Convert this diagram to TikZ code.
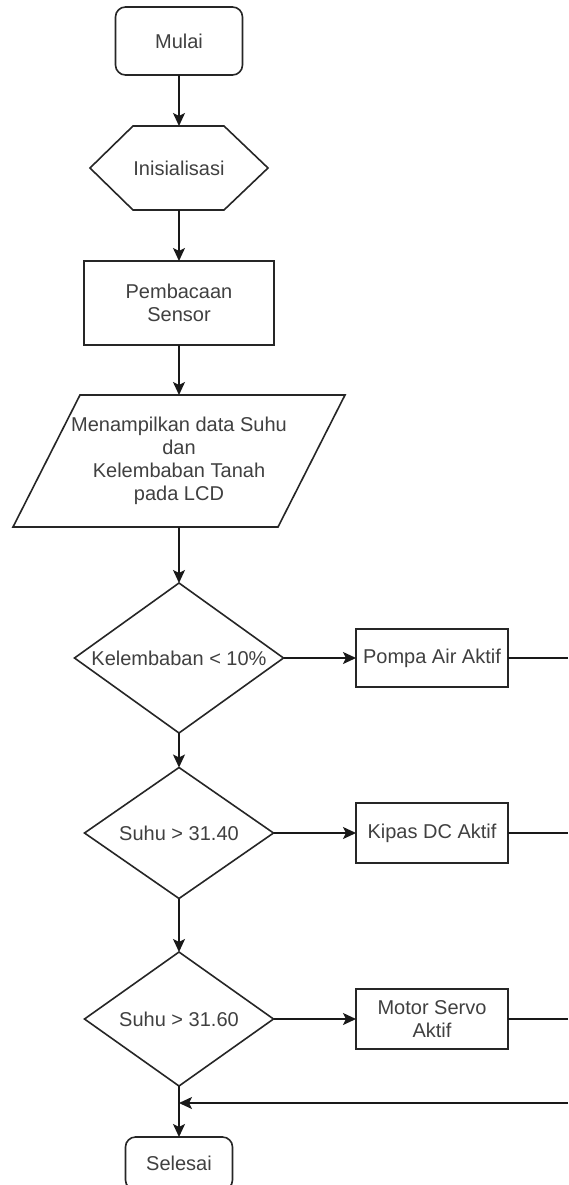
\documentclass[tikz,border=0pt]{standalone}
\usepackage{fontspec}
\setmainfont{Liberation Sans}
\usetikzlibrary{arrows.meta,calc}
\begin{document}
\begin{tikzpicture}[x=1pt,y=-1pt,
  txt/.style={font=\fontsize{20}{23}\selectfont, text=black!75, align=center, inner sep=0pt, outer sep=0pt},
  frame/.style={txt, draw=black!85, line width=1.6pt},
  ghost/.style={txt},
  outline/.style={draw=black!85, line width=1.6pt, line join=miter},
  conn/.style={draw=black!90, line width=1.6pt, -{Stealth[length=13pt,width=12pt,inset=3pt]}},
  stub/.style={draw=black!90, line width=1.6pt}]
\fill[white] (0,0) rectangle (568,1185);
\useasboundingbox (0,0) rectangle (568,1185);

% nodes
\node[frame, rounded corners=10pt, minimum width=127pt, minimum height=68pt] (mulai) at (179,41) {Mulai};

\node[ghost, minimum width=178pt, minimum height=84pt] (ini) at (179,168) {Inisialisasi};
\draw[outline] ($(ini.north west)+(43,0)$) -- ($(ini.north east)+(-44,0)$) -- (ini.east)
  -- ($(ini.south east)+(-44,0)$) -- ($(ini.south west)+(43,0)$) -- (ini.west) -- cycle;

\node[frame, minimum width=190pt, minimum height=84pt] (baca) at (179,303) {Pembacaan\\Sensor};

\node[ghost, minimum width=332pt, minimum height=132pt] (lcd) at (179,461)
  {Menampilkan data Suhu\\dan\\Kelembaban Tanah\\pada LCD};
\draw[outline] ($(lcd.north west)+(67,0)$) -- (lcd.north east)
  -- ($(lcd.south east)+(-67,0)$) -- (lcd.south west) -- cycle;

\node[ghost, minimum width=209pt, minimum height=150pt] (d1) at (179,658) {Kelembaban < 10\%};
\draw[outline] (d1.north) -- (d1.east) -- (d1.south) -- (d1.west) -- cycle;
\node[frame, minimum width=152pt, minimum height=58pt] (pompa) at (432,658) {Pompa Air Aktif};

\node[ghost, minimum width=189pt, minimum height=131pt] (d2) at (179,833) {Suhu > 31.40};
\draw[outline] (d2.north) -- (d2.east) -- (d2.south) -- (d2.west) -- cycle;
\node[frame, minimum width=152pt, minimum height=60pt] (kipas) at (432,833) {Kipas DC Aktif};

\node[ghost, minimum width=189pt, minimum height=134pt] (d3) at (179,1019) {Suhu > 31.60};
\draw[outline] (d3.north) -- (d3.east) -- (d3.south) -- (d3.west) -- cycle;
\node[frame, minimum width=152pt, minimum height=60pt] (motor) at (432,1019) {Motor Servo\\Aktif};

\node[frame, rounded corners=10pt, minimum width=107pt, minimum height=53pt] (sel) at (179,1163.5) {Selesai};

% free ends
\coordinate (e1) at (568,658);
\coordinate (e2) at (568,833);
\coordinate (e3) at (568,1019);
\coordinate (e4) at (568,1103);
\coordinate (j) at (179,1103);

% connectors
\draw[conn] (mulai.south) -- (ini.north);
\draw[conn] (ini.south) -- (baca.north);
\draw[conn] (baca.south) -- (lcd.north);
\draw[conn] (lcd.south) -- (d1.north);
\draw[conn] (d1.south) -- (d2.north);
\draw[conn] (d2.south) -- (d3.north);
\draw[conn] (d3.south) -- (sel.north);
\draw[conn] (d1.east) -- (pompa.west);
\draw[conn] (d2.east) -- (kipas.west);
\draw[conn] (d3.east) -- (motor.west);
\draw[stub] (pompa.east) -- (e1);
\draw[stub] (kipas.east) -- (e2);
\draw[stub] (motor.east) -- (e3);
\draw[conn] (e4) -- (j);
\end{tikzpicture}
\end{document}
